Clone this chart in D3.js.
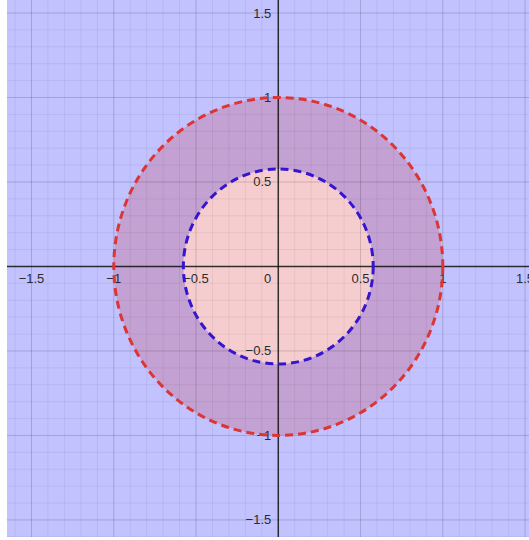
<!DOCTYPE html>
<html>
<head>
<meta charset="utf-8">
<script src="https://cdn.jsdelivr.net/npm/d3@7"></script>
<style>
  body { margin: 0; background: #fff; }
  svg { display: block; }
</style>
</head>
<body>
<svg></svg>
<script>
// circle radii (outer red r = 1, inner blue r ≈ 1/√3)
const outerR = 1;
const innerR = 0.577;
const tickValues = [-1.5, -1, -0.5, 0, 0.5, 1, 1.5];
const tickLabels = ["−1.5", "−1", "−0.5", "0", "0.5", "1", "1.5"];
const minorStep = 0.1;

const W = 529, H = 540;
const plot = { left: 7, right: 529, top: 0, bottom: 537 };

const svg = d3.select("svg").attr("width", W).attr("height", H);

const x = d3.scaleLinear().domain([-1.649, 1.524]).range([plot.left, plot.right]);
const y = d3.scaleLinear().domain([1.577, -1.601]).range([plot.top, plot.bottom]);

const g = svg.append("g");

// clip to plot area
svg.append("clipPath").attr("id", "clip")
  .append("rect")
  .attr("x", plot.left).attr("y", plot.top)
  .attr("width", plot.right - plot.left).attr("height", plot.bottom - plot.top);
g.attr("clip-path", "url(#clip)");

// background (shaded outside inner circle)
g.append("rect")
  .attr("x", plot.left).attr("y", plot.top)
  .attr("width", plot.right - plot.left).attr("height", plot.bottom - plot.top)
  .attr("fill", "#c2c2ff");

// annulus
g.append("ellipse")
  .attr("cx", x(0)).attr("cy", y(0))
  .attr("rx", x(outerR) - x(0)).attr("ry", y(0) - y(outerR))
  .attr("fill", "#c4a1d3");

// inner disc
g.append("ellipse")
  .attr("cx", x(0)).attr("cy", y(0))
  .attr("rx", x(innerR) - x(0)).attr("ry", y(0) - y(innerR))
  .attr("fill", "#f6cdcf");

// grid
const xMinor = d3.range(-16, 16).map((i) => +(i * minorStep).toFixed(2));
const yMinor = d3.range(-16, 16).map((i) => +(i * minorStep).toFixed(2));
const isMajor = (v) => Math.abs(v * 2 - Math.round(v * 2)) < 1e-6;

g.selectAll(".vgrid")
  .data(xMinor)
  .enter()
  .append("line")
  .attr("x1", (d) => x(d)).attr("x2", (d) => x(d))
  .attr("y1", plot.top).attr("y2", plot.bottom)
  .attr("stroke", "#000")
  .attr("stroke-opacity", (d) => (isMajor(d) ? 0.16 : 0.06))
  .attr("stroke-width", 1);

g.selectAll(".hgrid")
  .data(yMinor)
  .enter()
  .append("line")
  .attr("y1", (d) => y(d)).attr("y2", (d) => y(d))
  .attr("x1", plot.left).attr("x2", plot.right)
  .attr("stroke", "#000")
  .attr("stroke-opacity", (d) => (isMajor(d) ? 0.16 : 0.06))
  .attr("stroke-width", 1);

// axes
g.append("line")
  .attr("x1", plot.left).attr("x2", plot.right)
  .attr("y1", y(0)).attr("y2", y(0))
  .attr("stroke", "#000").attr("stroke-opacity", 0.75).attr("stroke-width", 1.5);
g.append("line")
  .attr("x1", x(0)).attr("x2", x(0))
  .attr("y1", plot.top).attr("y2", plot.bottom)
  .attr("stroke", "#000").attr("stroke-opacity", 0.75).attr("stroke-width", 1.5);

// tick labels
const font = "'Liberation Sans', Arial, sans-serif";
g.selectAll(".xlab")
  .data(tickValues)
  .enter()
  .append("text")
  .attr("x", (d) => (d === 0 ? x(0) - 7 : x(d)))
  .attr("y", y(0) + 17)
  .attr("text-anchor", (d) => (d === 0 ? "end" : "middle"))
  .attr("font-family", font)
  .attr("font-size", "13px")
  .attr("fill", "#2b2b2b")
  .text((d, i) => tickLabels[i]);

g.selectAll(".ylab")
  .data(tickValues.filter((d) => d !== 0))
  .enter()
  .append("text")
  .attr("x", x(0) - 7)
  .attr("y", (d) => y(d) + 4.5)
  .attr("text-anchor", "end")
  .attr("font-family", font)
  .attr("font-size", "13px")
  .attr("fill", "#2b2b2b")
  .text((d) => tickLabels[tickValues.indexOf(d)]);

// dashed boundaries
g.append("ellipse")
  .attr("cx", x(0)).attr("cy", y(0))
  .attr("rx", x(outerR) - x(0)).attr("ry", y(0) - y(outerR))
  .attr("fill", "none")
  .attr("stroke", "#dd3434")
  .attr("stroke-width", 3)
  .attr("stroke-dasharray", "8 5");

g.append("ellipse")
  .attr("cx", x(0)).attr("cy", y(0))
  .attr("rx", x(innerR) - x(0)).attr("ry", y(0) - y(innerR))
  .attr("fill", "none")
  .attr("stroke", "#3515cf")
  .attr("stroke-width", 3)
  .attr("stroke-dasharray", "8 5");
</script>
</body>
</html>
